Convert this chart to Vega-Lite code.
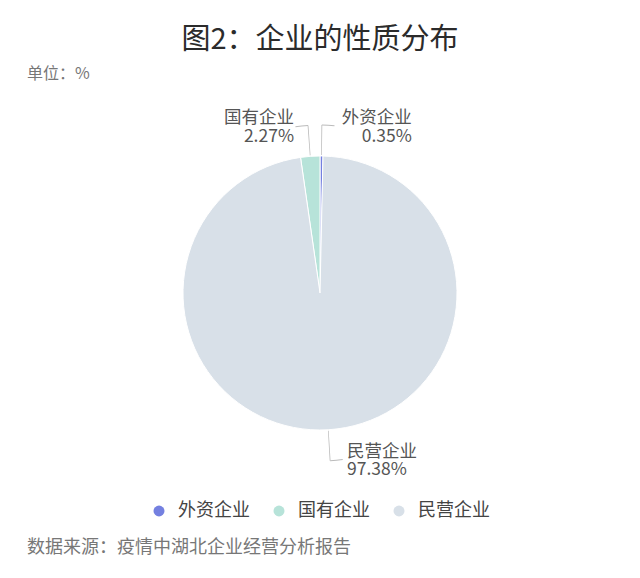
{
  "$schema": "https://vega.github.io/schema/vega-lite/v6.json",
  "padding": {"left": 27, "top": 26, "right": 0, "bottom": 0},
  "title": {
    "text": "图2：企业的性质分布",
    "anchor": "middle",
    "fontSize": 29,
    "fontWeight": "normal",
    "color": "#2b2b2b",
    "offset": 11
  },
  "spacing": 19,
  "vconcat": [
    {
      "title": {
        "text": "单位：%",
        "anchor": "start",
        "frame": "group",
        "fontSize": 16,
        "fontWeight": "normal",
        "color": "#777777",
        "offset": 14
      },
      "width": 586,
      "height": 394,
      "data": {
        "values": [
          {"类型": "外资企业", "占比": 0.35},
          {"类型": "国有企业", "占比": 2.27},
          {"类型": "民营企业", "占比": 97.38}
        ]
      },
      "transform": [
        {"stack": "占比", "groupby": [], "sort": [{"field": "类型", "order": "ascending"}], "as": ["起", "止"]},
        {"calculate": "(datum.起 + datum.止) / 2", "as": "中"},
        {"calculate": "datum.中 - 0.04", "as": "线起"},
        {"calculate": "datum.中 + 0.04", "as": "线止"},
        {"calculate": "datum.类型 === '外资企业' ? 1 : -1", "as": "向"},
        {"calculate": "min(datum.中, datum.中 + 1.2 * datum.向)", "as": "横起"},
        {"calculate": "max(datum.中, datum.中 + 1.2 * datum.向)", "as": "横止"},
        {"calculate": "datum.类型 + '\\n' + format(datum.占比, '.2f') + '%'", "as": "标签"}
      ],
      "layer": [
        {
          "mark": {"type": "arc", "radius": 137, "stroke": "white", "strokeWidth": 1},
          "encoding": {
            "theta": {
              "field": "起",
              "type": "quantitative",
              "scale": {"domain": [0, 100], "range": [-0.142628, 6.140557]}
            },
            "theta2": {"field": "止"},
            "color": {
              "field": "类型",
              "type": "nominal",
              "scale": {
                "domain": ["外资企业", "国有企业", "民营企业"],
                "range": ["#7480e0", "#b7e3d9", "#d8e0e8"]
              },
              "legend": {
                "orient": "bottom",
                "direction": "horizontal",
                "title": null,
                "symbolType": "circle",
                "symbolSize": 120,
                "symbolStrokeWidth": 0,
                "labelFontSize": 18,
                "labelColor": "#444444",
                "labelOffset": 10,
                "columnPadding": 20,
                "offset": 12
              }
            }
          }
        },
        {
          "mark": {"type": "arc", "radius": 168, "radius2": 138, "color": "#bbbbbb"},
          "encoding": {
            "theta": {"field": "线起", "type": "quantitative"},
            "theta2": {"field": "线止"}
          }
        },
        {
          "mark": {"type": "arc", "radius": 168.5, "radius2": 167.5, "color": "#bbbbbb"},
          "encoding": {
            "theta": {"field": "横起", "type": "quantitative"},
            "theta2": {"field": "横止"}
          }
        },
        {
          "transform": [{"filter": "datum.类型 === '国有企业'"}],
          "mark": {"type": "text", "radius": 168, "align": "right", "baseline": "middle", "dx": -14, "dy": -7, "fontSize": 17.5, "lineHeight": 18.5, "lineBreak": "\n", "color": "#555555"},
          "encoding": {
            "theta": {"field": "中", "type": "quantitative", "stack": null},
            "text": {"field": "标签", "type": "nominal"}
          }
        },
        {
          "transform": [{"filter": "datum.类型 === '外资企业'"}],
          "mark": {"type": "text", "radius": 168, "align": "right", "baseline": "middle", "dx": 90, "dy": -7, "fontSize": 17.5, "lineHeight": 18.5, "lineBreak": "\n", "color": "#555555"},
          "encoding": {
            "theta": {"field": "中", "type": "quantitative", "stack": null},
            "text": {"field": "标签", "type": "nominal"}
          }
        },
        {
          "transform": [{"filter": "datum.类型 === '民营企业'"}],
          "mark": {"type": "text", "radius": 166, "align": "left", "baseline": "middle", "dx": 17, "dy": -7, "fontSize": 17.5, "lineHeight": 18.5, "lineBreak": "\n", "color": "#555555"},
          "encoding": {
            "theta": {"field": "中", "type": "quantitative", "stack": null},
            "text": {"field": "标签", "type": "nominal"}
          }
        }
      ]
    },
    {
      "title": {
        "text": "数据来源：疫情中湖北企业经营分析报告",
        "anchor": "start",
        "frame": "group",
        "fontSize": 18,
        "fontWeight": "normal",
        "color": "#777777",
        "offset": 0
      },
      "width": 586,
      "height": 1,
      "data": {"values": []},
      "mark": {"type": "point", "opacity": 0}
    }
  ],
  "resolve": {"legend": {"color": "independent"}},
  "config": {
    "font": "Noto Sans CJK SC",
    "view": {"stroke": null},
    "background": "white",
    "legend": {"layout": {"bottom": {"anchor": "middle"}}}
  }
}
